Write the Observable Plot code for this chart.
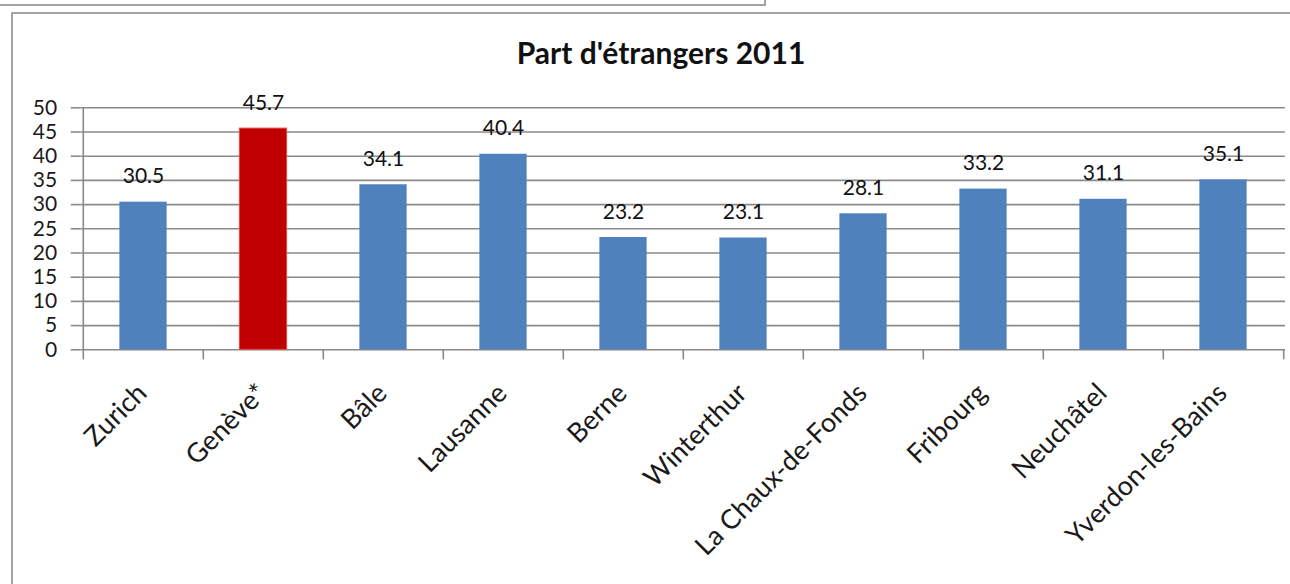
<!DOCTYPE html>
<html>
<head>
<meta charset="utf-8">
<script src="https://cdn.jsdelivr.net/npm/d3@7"></script>
<script src="https://cdn.jsdelivr.net/npm/@observablehq/plot@0.6"></script>
<style>
  html, body { margin: 0; padding: 0; background: #fff; }
  #wrap { position: relative; width: 1290px; height: 584px; overflow: hidden; background: #fff; font-family: Lato, "Open Sans", sans-serif; }
  #chart { position: absolute; left: 0; top: 80px; }
  #title { position: absolute; left: 411px; width: 500px; top: 34px; line-height: 36px; text-align: center; font-size: 30px; font-weight: 700; color: #111; white-space: nowrap; }
  .frame { position: absolute; border: 2px solid #a3a3a3; box-sizing: border-box; pointer-events: none; }
</style>
</head>
<body>
<div id="wrap">
  <div class="frame" style="left:-10px; top:-10px; width:776px; height:16px;"></div>
  <div class="frame" style="left:11px; top:12px; width:1400px; height:700px;"></div>
  <div id="title">Part d'étrangers 2011</div>
  <div id="chart"></div>
</div>
<script>
const cities = ["Zurich", "Genève*", "Bâle", "Lausanne", "Berne", "Winterthur", "La Chaux-de-Fonds", "Fribourg", "Neuchâtel", "Yverdon-les-Bains"];
const shares = [30.5, 45.7, 34.1, 40.4, 23.2, 23.1, 28.1, 33.2, 31.1, 35.1];
const highlight = "Genève*";
const yTicks = [0, 5, 10, 15, 20, 25, 30, 35, 40, 45, 50];

const blue = "#4f81bd";
const red = "#c00000";
const gridColor = "#8a8a8a";

const data = cities.map((city, i) => ({city, share: shares[i]}));

const W = 1290, H = 504;
const mL = 80.7, mR = 5, mT = 27.3, mB = 234.7;
const bw = (W - mL - mR) / cities.length;
const inset = bw * 0.302;

const chart = Plot.plot({
  width: W,
  height: H,
  marginLeft: mL,
  marginRight: mR,
  marginTop: mT,
  marginBottom: mB,
  style: {fontFamily: "Lato, 'Open Sans', sans-serif", background: "transparent", overflow: "visible"},
  x: {type: "band", domain: cities, padding: 0, label: null},
  y: {domain: [0, 50], label: null},
  marks: [
    Plot.gridY({ticks: yTicks, stroke: gridColor, strokeOpacity: 1, strokeWidth: 1.6}),
    Plot.axisY({ticks: yTicks, tickSize: 10, tickPadding: 14, fontSize: 21, stroke: gridColor, strokeWidth: 1.6, fill: "#1a1a1a", label: null}),
    Plot.ruleX([cities[0]], {dx: -bw / 2, stroke: gridColor, strokeWidth: 1.6}),
    Plot.axisX({ticks: cities, tickSize: 10, tickFormat: () => "", dx: -bw / 2, stroke: gridColor, strokeWidth: 1.6, label: null}),
    Plot.axisX({ticks: [cities[cities.length - 1]], tickSize: 10, tickFormat: () => "", dx: bw / 2, stroke: gridColor, strokeWidth: 1.6, label: null}),
    Plot.barY(data, {filter: d => d.city !== highlight, x: "city", y: "share", fill: blue, insetLeft: inset, insetRight: inset}),
    Plot.barY(data, {filter: d => d.city === highlight, x: "city", y: "share", fill: red, stroke: "#e04848", strokeWidth: 1, insetLeft: inset, insetRight: inset}),
    Plot.text(data, {x: "city", y: "share", text: d => d.share.toFixed(1), dy: -19, lineAnchor: "bottom", fontSize: 21, fill: "#111"}),
    Plot.axisX({tickSize: 0, tickPadding: 45, tickRotate: -45, textAnchor: "end", lineAnchor: "bottom", fontSize: 27, dx: 5, fill: "#1a1a1a", label: null})
  ]
});
document.getElementById("chart").appendChild(chart);
</script>
</body>
</html>
